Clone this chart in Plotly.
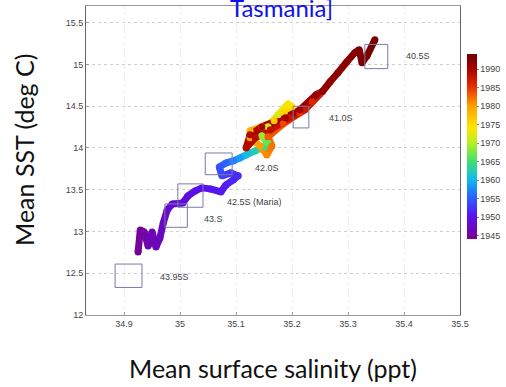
import plotly.graph_objects as go
from plotly.colors import sample_colorscale

# Trajectory (mean surface salinity, mean SST, year)
salinity = [34.925, 34.929, 34.936, 34.943, 34.950, 34.957, 34.964, 34.970, 34.977, 34.986,
            35.005, 35.014, 35.027, 35.039, 35.054, 35.073, 35.082, 35.095, 35.104,
            35.091, 35.075, 35.070, 35.082, 35.095, 35.107,
            35.118, 35.134, 35.150, 35.157,
            35.146, 35.157, 35.175, 35.193, 35.200, 35.186,
            35.168, 35.146, 35.125, 35.125, 35.143, 35.155, 35.164,
            35.157, 35.184, 35.214, 35.236, 35.250,
            35.223, 35.196, 35.161, 35.134, 35.118, 35.125, 35.146, 35.188, 35.214,
            35.243, 35.254, 35.268, 35.282, 35.298, 35.312, 35.320, 35.325, 35.334, 35.348]
sst = [12.754, 13.018, 12.994, 12.826, 12.994, 12.814, 12.922, 13.102, 13.258, 13.330,
       13.342, 13.426, 13.486, 13.522, 13.510, 13.474, 13.558, 13.618, 13.666,
       13.702, 13.666, 13.773, 13.821, 13.845, 13.881,
       13.917, 13.965, 14.013, 14.061,
       14.145, 14.253, 14.397, 14.529, 14.493, 14.421,
       14.325, 14.253, 14.205, 14.121, 14.025, 13.917, 14.025,
       14.133, 14.289, 14.421, 14.553, 14.649,
       14.457, 14.361, 14.217, 14.121, 14.001, 14.157, 14.253, 14.361, 14.457,
       14.637, 14.673, 14.793, 14.901, 15.032, 15.140, 15.176, 15.020, 15.104, 15.296]
years = [1944.5, 1945.0, 1945.4, 1945.8, 1946.2, 1946.6, 1947.0, 1947.4, 1947.8, 1948.2,
         1948.6, 1949.0, 1949.4, 1949.8, 1950.2, 1950.6, 1951.0, 1951.4, 1951.8,
         1952.5, 1953.5, 1954.5, 1955.5, 1957.0, 1958.5,
         1960.5, 1962.5, 1964.5, 1966.5,
         1968.5, 1970.5, 1972.0, 1973.5, 1974.5, 1975.5,
         1976.5, 1977.5, 1978.5, 1979.2, 1980.0, 1981.0, 1982.0,
         1983.0, 1984.0, 1985.0, 1986.0, 1986.8,
         1987.4, 1987.8, 1988.2, 1988.6, 1989.0, 1989.4, 1989.8, 1990.2, 1990.6,
         1991.0, 1991.3, 1991.6, 1991.9, 1992.2, 1992.5, 1992.7, 1992.9, 1993.1, 1993.4]

# Latitude boxes
box_labels = ["40.5S", "41.0S", "42.0S", "42.5S (Maria)", "43.S", "43.95S"]
box_x0 = [35.330, 35.202, 35.045, 34.996, 34.973, 34.884]
box_x1 = [35.371, 35.230, 35.093, 35.041, 35.013, 34.932]
box_y0 = [14.95, 14.24, 13.68, 13.29, 13.05, 12.33]
box_y1 = [15.24, 14.50, 13.94, 13.57, 13.33, 12.61]
label_x = [35.400, 35.262, 35.130, 35.080, 35.040, 34.960]
label_y = [15.10, 14.36, 13.76, 13.35, 13.15, 12.45]

x_ticks = [34.9, 35.0, 35.1, 35.2, 35.3, 35.4, 35.5]
x_ticklabels = ["34.9", "35", "35.1", "35.2", "35.3", "35.4", "35.5"]
y_ticks = [12, 12.5, 13, 13.5, 14, 14.5, 15, 15.5]
cbar_ticks = [1945, 1950, 1955, 1960, 1965, 1970, 1975, 1980, 1985, 1990]

cmin, cmax = 1944, 1994
cscale = [
    [0.00, "#7a0090"],
    [0.12, "#5a10f0"],
    [0.22, "#2c5cff"],
    [0.32, "#10b8f0"],
    [0.42, "#40e070"],
    [0.52, "#b8f020"],
    [0.60, "#ffe400"],
    [0.72, "#ffa000"],
    [0.82, "#e83000"],
    [0.92, "#a80000"],
    [1.00, "#700000"],
]

fig = go.Figure()

# line segments coloured by year
for i in range(len(salinity) - 1):
    t = ((years[i] + years[i + 1]) / 2 - cmin) / (cmax - cmin)
    col = sample_colorscale(cscale, [t])[0]
    fig.add_trace(go.Scatter(
        x=[salinity[i], salinity[i + 1]], y=[sst[i], sst[i + 1]],
        mode="lines", line=dict(color=col, width=7),
        hoverinfo="skip", showlegend=False))

fig.add_trace(go.Scatter(
    x=salinity, y=sst, mode="markers",
    marker=dict(size=7, color=years, colorscale=cscale, cmin=cmin, cmax=cmax,
                colorbar=dict(thickness=10, len=185, lenmode="pixels",
                              x=467 / 506, xref="container", xanchor="left", xpad=0,
                              y=1 - 68 / 387, yref="container", yanchor="top", ypad=0,
                              tickvals=cbar_ticks, ticks="outside", ticklen=2,
                              tickcolor="#888", ticklabeloverflow="allow",
                              tickfont=dict(size=9, color="#444", family="Arial"),
                              outlinewidth=0)),
    showlegend=False))

for i in range(len(box_labels)):
    fig.add_shape(type="rect", x0=box_x0[i], x1=box_x1[i], y0=box_y0[i], y1=box_y1[i],
                  line=dict(color="#7a7aa8", width=1), layer="above")
    fig.add_annotation(x=label_x[i], y=label_y[i], text=box_labels[i], showarrow=False,
                       xanchor="left", yanchor="middle",
                       font=dict(size=9, color="#444", family="Arial"))

fig.add_annotation(text="Tasmania]", xref="paper", yref="paper", x=0.523, y=0.943,
                   xanchor="center", yanchor="bottom", showarrow=False,
                   font=dict(size=24, color="#1010f0", family="Lato"))

fig.add_annotation(text="Mean SST (deg C)", xref="paper", yref="paper",
                   x=-0.166, y=0.534, xanchor="center", yanchor="middle",
                   textangle=-90, showarrow=False,
                   font=dict(size=25, color="#111", family="Lato"))

fig.update_xaxes(range=[34.832, 35.5], tickvals=x_ticks, ticktext=x_ticklabels,
                 showgrid=True, gridcolor="#ececec", griddash="dot", gridwidth=1,
                 showline=True, linecolor="#999", mirror=True, ticks="inside", ticklen=3,
                 tickcolor="#999", zeroline=False,
                 tickfont=dict(size=9, color="#444", family="Arial"),
                 title=dict(text="Mean surface salinity (ppt)", standoff=32,
                            font=dict(size=25, color="#111", family="Lato")))
fig.update_yaxes(range=[12, 15.7], tickvals=y_ticks,
                 showgrid=True, gridcolor="#cfcfcf", griddash="dot", gridwidth=1,
                 showline=True, linecolor="#666", mirror=True, ticks="inside", ticklen=3,
                 tickcolor="#999", zeroline=False,
                 tickfont=dict(size=9, color="#444", family="Arial"))

fig.update_layout(width=506, height=387,
                  margin=dict(l=86, r=46, t=6, b=72, autoexpand=False),
                  plot_bgcolor="white", paper_bgcolor="white", showlegend=False)

fig.write_html("out.html", config={"displayModeBar": False},
               post_script="document.body.style.margin='0';")
